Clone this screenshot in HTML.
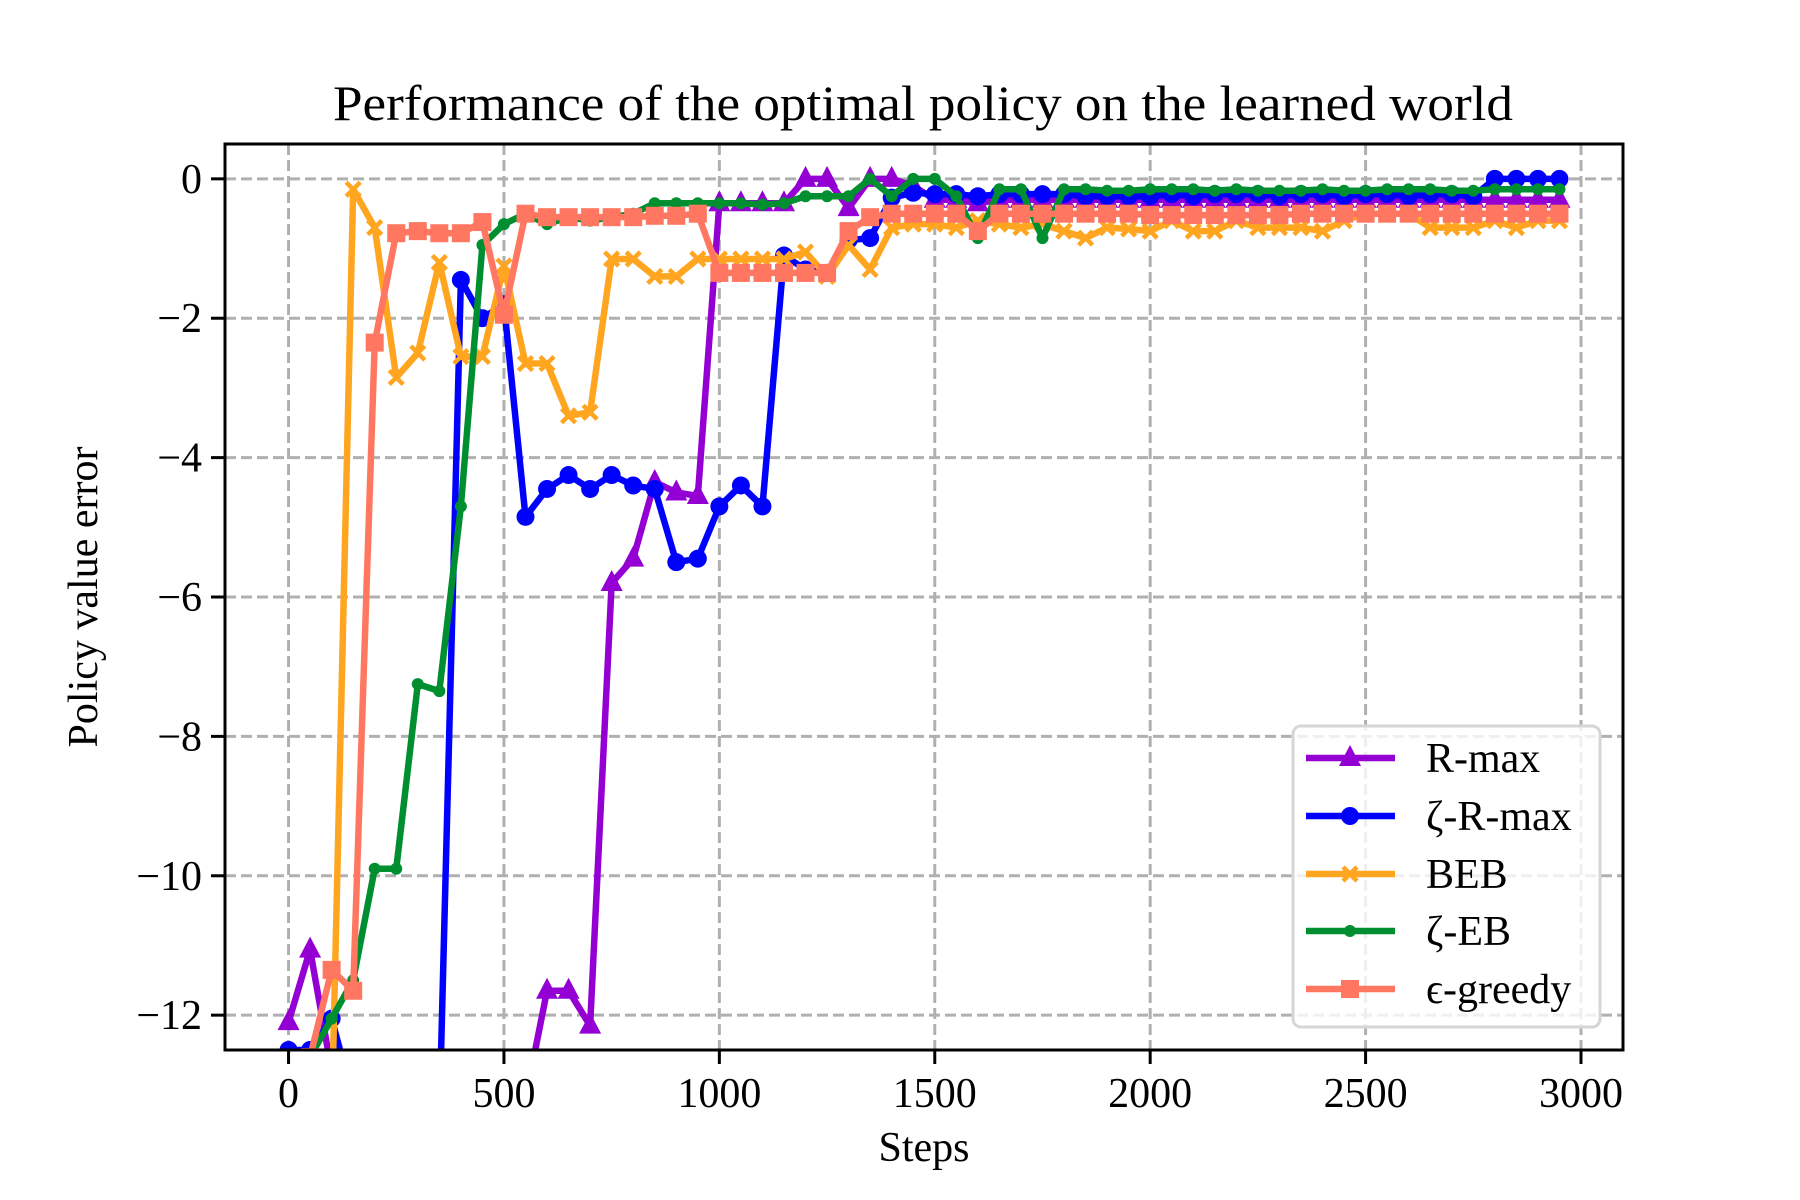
<!DOCTYPE html>
<html><head><meta charset="utf-8"><style>
html,body{margin:0;padding:0;background:#fff}
svg{display:block}
text{font-family:"Liberation Serif","DejaVu Serif",serif;fill:#000}
</style></head><body>
<svg id="chart" width="1800" height="1200" viewBox="0 0 1800 1200" xmlns="http://www.w3.org/2000/svg">
<rect width="1800" height="1200" fill="#fff"/>
<text x="923" y="120" font-size="50" text-anchor="middle" textLength="1180" lengthAdjust="spacingAndGlyphs">Performance of the optimal policy on the learned world</text>
<defs><clipPath id="plotclip"><rect x="225" y="144" width="1398" height="906"/></clipPath></defs>
<g id="grid"></g>
<g id="series" clip-path="url(#plotclip)"></g>
<rect x="225" y="144" width="1398" height="906" fill="none" stroke="#000" stroke-width="3"/>
<g id="ticks"></g>
<text x="924" y="1161" font-size="42" text-anchor="middle">Steps</text>
<text x="0" y="0" font-size="42" text-anchor="middle" transform="translate(97,597) rotate(-90)">Policy value error</text>
<g id="legend"></g>
</svg>
<script>
const steps = [0,50,100,150,200,250,300,350,400,450,500,550,600,650,700,750,800,850,900,950,1000,1050,1100,1150,1200,1250,1300,1350,1400,1450,1500,1550,1600,1650,1700,1750,1800,1850,1900,1950,2000,2050,2100,2150,2200,2250,2300,2350,2400,2450,2500,2550,2600,2650,2700,2750,2800,2850,2900,2950];
const rmax = [-12.1,-11.06,-12.8,-12.75,-12.9,-12.9,-12.75,-12.9,-12.75,-12.75,-12.75,-13.2,-11.65,-11.65,-12.15,-5.8,-5.45,-4.35,-4.5,-4.55,-0.35,-0.35,-0.35,-0.35,0,0,-0.42,0,0,-0.1,-0.3,-0.3,-0.35,-0.3,-0.3,-0.3,-0.3,-0.3,-0.3,-0.3,-0.3,-0.3,-0.3,-0.3,-0.3,-0.3,-0.3,-0.3,-0.3,-0.3,-0.3,-0.3,-0.3,-0.3,-0.3,-0.3,-0.3,-0.3,-0.3,-0.3];
const zrmax = [-12.5,-12.5,-12.05,-13.2,-13.5,-13.5,-13.5,-13.5,-1.45,-2.0,-1.8,-4.85,-4.45,-4.25,-4.45,-4.25,-4.4,-4.45,-5.5,-5.45,-4.7,-4.4,-4.7,-1.1,-1.3,-1.35,-0.88,-0.85,-0.27,-0.2,-0.22,-0.22,-0.25,-0.22,-0.22,-0.22,-0.22,-0.25,-0.25,-0.25,-0.25,-0.22,-0.25,-0.22,-0.22,-0.22,-0.25,-0.22,-0.22,-0.25,-0.22,-0.22,-0.25,-0.22,-0.22,-0.25,0,0,0,0];
const beb = [-12.6,-12.6,-13.5,-0.15,-0.7,-2.85,-2.5,-1.2,-2.55,-2.55,-1.25,-2.65,-2.65,-3.4,-3.35,-1.15,-1.15,-1.4,-1.4,-1.15,-1.15,-1.15,-1.15,-1.15,-1.05,-1.4,-0.95,-1.3,-0.7,-0.65,-0.65,-0.7,-0.6,-0.65,-0.7,-0.65,-0.75,-0.85,-0.7,-0.72,-0.75,-0.6,-0.75,-0.75,-0.6,-0.7,-0.7,-0.7,-0.75,-0.6,-0.5,-0.5,-0.5,-0.7,-0.7,-0.7,-0.6,-0.7,-0.6,-0.6];
const zeb = [-12.6,-12.6,-12.05,-11.5,-9.9,-9.9,-7.25,-7.35,-4.7,-0.95,-0.65,-0.5,-0.65,-0.55,-0.6,-0.55,-0.5,-0.35,-0.35,-0.35,-0.35,-0.35,-0.37,-0.35,-0.25,-0.25,-0.25,0,-0.25,0,0,-0.25,-0.85,-0.15,-0.15,-0.85,-0.15,-0.15,-0.17,-0.17,-0.15,-0.15,-0.15,-0.17,-0.15,-0.17,-0.17,-0.17,-0.15,-0.17,-0.17,-0.15,-0.15,-0.15,-0.17,-0.17,-0.15,-0.15,-0.15,-0.15];
const egreedy = [-13.2,-12.6,-11.35,-11.65,-2.35,-0.78,-0.75,-0.78,-0.78,-0.62,-1.95,-0.5,-0.55,-0.55,-0.55,-0.55,-0.55,-0.53,-0.53,-0.5,-1.35,-1.35,-1.35,-1.35,-1.35,-1.35,-0.75,-0.55,-0.5,-0.5,-0.5,-0.5,-0.75,-0.5,-0.5,-0.5,-0.5,-0.5,-0.5,-0.5,-0.52,-0.52,-0.52,-0.52,-0.52,-0.52,-0.52,-0.5,-0.5,-0.5,-0.5,-0.5,-0.5,-0.5,-0.5,-0.5,-0.5,-0.5,-0.5,-0.5];
const xTicks = [0,500,1000,1500,2000,2500,3000];
const xTickLabels = ["0","500","1000","1500","2000","2500","3000"];
const yTicks = [0,-2,-4,-6,-8,-10,-12];
const yTickLabels = ["0","\u22122","\u22124","\u22126","\u22128","\u221210","\u221212"];
const seriesNames = ["R-max","\u03b6-R-max","BEB","\u03b6-EB","\u03f5-greedy"];

const NS="http://www.w3.org/2000/svg";
const L=225,R=1623,T=144,B=1050, XMIN=-147.5,XMAX=3097.5,YMIN=-12.5,YMAX=0.5;
const xs=v=>L+(v-XMIN)/(XMAX-XMIN)*(R-L);
const ys=v=>B-(v-YMIN)/(YMAX-YMIN)*(B-T);
function mk(tag,attrs,parent){const e=document.createElementNS(NS,tag);for(const k in attrs)e.setAttribute(k,attrs[k]);parent.appendChild(e);return e;}
const grid=document.getElementById('grid'),ticks=document.getElementById('ticks'),ser=document.getElementById('series'),leg=document.getElementById('legend');
xTicks.forEach((v,i)=>{
  const g=mk('line',{x1:xs(v),x2:xs(v),y1:T,y2:B,stroke:'#b0b0b0','stroke-width':3,'stroke-dasharray':'11,5'},grid);
  
  
  const t=mk('line',{x1:xs(v),x2:xs(v),y1:B,y2:B+14,stroke:'#000','stroke-width':3},ticks);
  
  
  const tx=mk('text',{x:xs(v),y:B+57,'font-size':42,'text-anchor':'middle'},ticks);
  tx.textContent=xTickLabels[i];
  
  
});
yTicks.forEach((v,i)=>{
  const g=mk('line',{x1:L,x2:R,y1:ys(v),y2:ys(v),stroke:'#b0b0b0','stroke-width':3,'stroke-dasharray':'11,5'},grid);
  
  
  const t=mk('line',{x1:L-14,x2:L,y1:ys(v),y2:ys(v),stroke:'#000','stroke-width':3},ticks);
  
  
  const tx=mk('text',{x:L-23,y:ys(v)+14,'font-size':42,'text-anchor':'end'},ticks);
  tx.textContent=yTickLabels[i];
  
  
});
function marker(type,x,y,color,parent){
  let e;
  if(type==='tri') e=mk('polygon',{points:`${x},${y-13} ${x-11},${y+8} ${x+11},${y+8}`,fill:color},parent);
  else if(type==='circ') e=mk('circle',{cx:x,cy:y,r:9,fill:color},parent);
  else if(type==='sq') e=mk('rect',{x:x-9,y:y-9,width:18,height:18,fill:color},parent);
  else if(type==='x') e=mk('path',{d:`M${x-7},${y-7}L${x+7},${y+7}M${x-7},${y+7}L${x+7},${y-7}`,stroke:color,'stroke-width':4.5},parent);
  else e=mk('circle',{cx:x,cy:y,r:6,fill:color},parent);
  return e;
}
const all=[[rmax,'#9400d3','tri'],[zrmax,'#0000ff','circ'],[beb,'#ffa520','x'],[zeb,'#008f30','star'],[egreedy,'#ff7761','sq']];
all.forEach(([vals,color,m],si)=>{
  const g=mk('g',{},ser);
  
  
  const p=mk('polyline',{points:steps.map((s,i)=>xs(s)+','+ys(vals[i])).join(' '),fill:'none',stroke:color,'stroke-width':6.5,'stroke-linejoin':'round'},g);
  
  
  steps.forEach((s,i)=>{
    const e=marker(m,xs(s),ys(vals[i]),color,g);
    
    
  });
});
const box=mk('rect',{x:1293,y:726,width:307,height:301,rx:8,fill:'rgba(255,255,255,0.8)',stroke:'#d6d6d6','stroke-width':3},leg);


const ly=[758,816,874,931,989];
all.forEach(([vals,color,m],si)=>{
  const g=mk('g',{},leg);
  
  
  mk('line',{x1:1306,x2:1395,y1:ly[si],y2:ly[si],stroke:color,'stroke-width':6.5},g);
  marker(m,1350,ly[si],color,g);
  const t=mk('text',{x:1426,y:ly[si]+14,'font-size':42},g);
  t.textContent=seriesNames[si];
});
</script>
</body></html>
